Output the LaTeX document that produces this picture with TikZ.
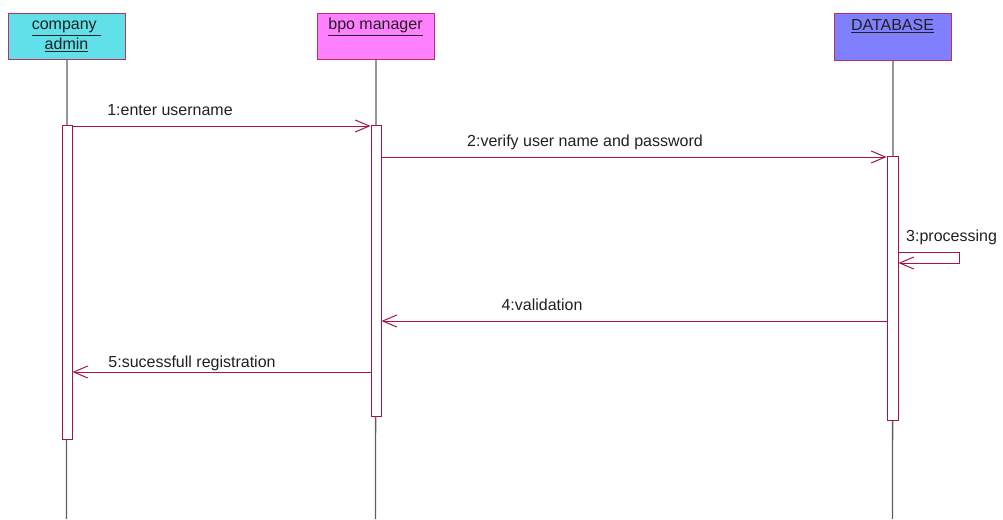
\documentclass[tikz,border=0pt]{standalone}
\usepackage{fontspec}
\setmainfont{Liberation Sans}
\usetikzlibrary{arrows.meta}
\definecolor{ln}{HTML}{A8124A}
\definecolor{bd}{HTML}{B8306A}
\definecolor{cyanf}{HTML}{60E0E8}
\definecolor{magf}{HTML}{FF80FF}
\definecolor{bluf}{HTML}{8080FF}
\definecolor{lifec}{HTML}{606060}
\definecolor{txt}{HTML}{202020}
\begin{document}
\begin{tikzpicture}[x=1pt,y=-1pt,
  hdr/.style={draw=bd, line width=1pt, rectangle, inner sep=0pt, anchor=north west, minimum width=117pt, minimum height=46pt},
  lbl/.style={font=\fontsize{16}{19}\selectfont, text=txt, inner sep=0pt, anchor=base},
  life/.style={draw=lifec, line width=1.3pt},
  actbar/.style={draw=ln, fill=white, line width=1pt, rectangle, inner sep=0pt, minimum width=10pt},
  msg/.style={draw=ln, line width=1pt, -{Straight Barb[length=14pt,width=12pt]}}
]
\useasboundingbox (0,0) rectangle (1003,519);
% headers
\node[hdr, fill=cyanf] (ca) at (8,13) {};
\node[hdr, fill=magf] (bm) at (317,13) {};
\node[hdr, fill=bluf, minimum height=47pt] (db) at (834,13) {};
\node[lbl] (catxt1) at (66.5,30) {\underline{company\ }};
\node[lbl] (catxt2) at (66.5,50) {\underline{admin}};
\node[lbl] (bmtxt) at (375.5,30) {\underline{bpo manager}};
\node[lbl] (dbtxt) at (892.5,31) {\underline{DATABASE}};
% lifelines
\coordinate (caend) at (66.5,519);
\coordinate (bmend) at (375.5,519);
\coordinate (dbend) at (892.5,519);
\draw[life] (ca.south) -- (caend);
\draw[life] (bm.south) -- (bmend);
\draw[life] (db.south) -- (dbend);
% activation bars
\node[actbar, minimum height=314pt] (a1) at (67,282) {};
\node[actbar, minimum height=291pt] (a2) at (376,270.5) {};
\node[actbar, minimum height=264pt, minimum width=11pt] (a3) at (892.5,288) {};
% messages
\draw[msg] (a1.east |- 0,126) -- (a2.west |- 0,126);
\node[lbl] (l1) at (170,115) {1:enter username};
\draw[msg] (a2.east |- 0,157) -- (a3.west |- 0,157);
\node[lbl] (l2) at (585,146) {2:verify user name and password};
\coordinate (p3a) at (959,252);
\coordinate (p3b) at (959,263);
\draw[msg] (a3.east |- 0,252) -- (p3a) -- (p3b) -- (a3.east |- 0,263);
\node[lbl, anchor=base west] (l3) at (906,241) {3:processing};
\draw[msg] (a3.west |- 0,321) -- (a2.east |- 0,321);
\node[lbl] (l4) at (542,310) {4:validation};
\draw[msg] (a2.west |- 0,372) -- (a1.east |- 0,372);
\node[lbl] (l5) at (192,367) {5:sucessfull registration};
\end{tikzpicture}
\end{document}
